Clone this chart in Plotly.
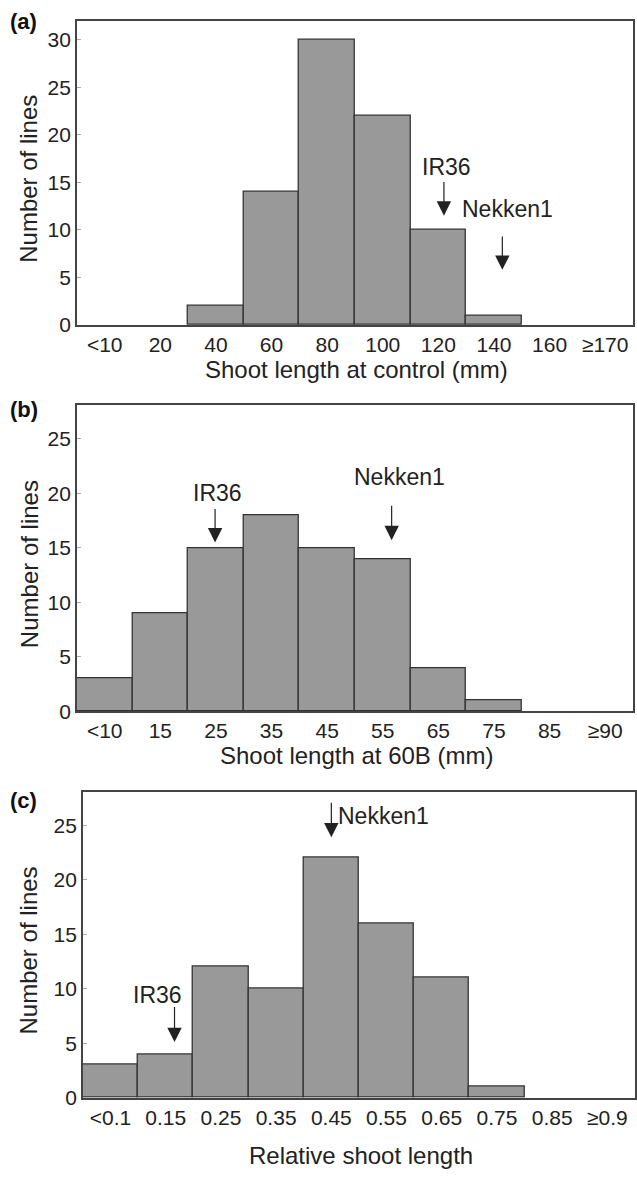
import plotly.graph_objects as go

W, H = 637, 1178

# ---- data ----
cats_a = ["<10", "20", "40", "60", "80", "100", "120", "140", "160", "≥170"]
vals_a = [0, 0, 2, 14, 30, 22, 10, 1, 0, 0]
cats_b = ["<10", "15", "25", "35", "45", "55", "65", "75", "85", "≥90"]
vals_b = [3, 9, 15, 18, 15, 14, 4, 1, 0, 0]
cats_c = ["<0.1", "0.15", "0.25", "0.35", "0.45", "0.55", "0.65", "0.75", "0.85", "≥0.9"]
vals_c = [3, 4, 12, 10, 22, 16, 11, 1, 0, 0]

xtitles = ["Shoot length at control (mm)", "Shoot length at 60B (mm)", "Relative shoot length"]
ytitle = "Number of lines"
panel_labels = ["(a)", "(b)", "(c)"]

# marker annotations: (text, arrow x, tail y, tip y, text x, text y, xanchor)
marks_a = [("IR36", 6.1, 15.2, 11.5, 6.14, 16.6, "center"),
           ("Nekken1", 7.15, 9.45, 5.8, 7.24, 12.25, "center")]
marks_b = [("IR36", 1.985, 18.7, 15.5, 2.02, 20.0, "center"),
           ("Nekken1", 5.16, 19.0, 15.7, 5.3, 21.5, "center")]
marks_c = [("Nekken1", 4.0, 27.2, 23.9, 4.08, 25.9, "left"),
           ("IR36", 1.16, 8.45, 5.1, 0.85, 9.45, "center")]

FONT = "Liberation Sans, Arial, sans-serif"
TXT = "#222222"
BAR = "#999999"
EDGE = "#333333"

def px(xp):
    return xp / W

def py(yp):
    return 1 - yp / H

panels = [
    dict(cats=cats_a, vals=vals_a, marks=marks_a, l=77, r=634, t=21, b=328, ymax=32,
         yt=[0, 5, 10, 15, 20, 25, 30], ttl_y=373, lab_y=22),
    dict(cats=cats_b, vals=vals_b, marks=marks_b, l=77, r=634, t=409, b=718, ymax=28.1,
         yt=[0, 5, 10, 15, 20, 25], ttl_y=763, lab_y=413),
    dict(cats=cats_c, vals=vals_c, marks=marks_c, l=83, r=636, t=799, b=1108, ymax=28.1,
         yt=[0, 5, 10, 15, 20, 25], ttl_y=1166, lab_y=808),
]

fig = go.Figure()
annotations = []
layout = {}

for i, p in enumerate(panels):
    n = "" if i == 0 else str(i + 1)
    xa, ya = "x" + n, "y" + n
    fig.add_trace(go.Bar(
        x=p["cats"], y=p["vals"], xaxis=xa, yaxis=ya,
        marker=dict(color=BAR, line=dict(color=EDGE,
                                         width=[1.3 if v > 0 else 0 for v in p["vals"]])),
        showlegend=False, hoverinfo="x+y",
    ))
    layout["xaxis" + n] = dict(
        domain=[px(p["l"]), px(p["r"])], anchor=ya, type="category",
        range=[-0.5, 9.5], showline=True, mirror=True, linecolor="#444444", linewidth=1.5,
        ticks="", showgrid=False, zeroline=False,
        tickfont=dict(family=FONT, size=21, color=TXT),
    )
    layout["yaxis" + n] = dict(
        domain=[py(p["b"]), py(p["t"])], anchor=xa, range=[0, p["ymax"]],
        tickvals=p["yt"], showline=True, mirror=True, linecolor="#444444", linewidth=1.5,
        ticks="inside", ticklen=4, tickcolor="#aaaaaa", showgrid=False, zeroline=False,
        tickfont=dict(family=FONT, size=21, color=TXT),
    )
    annotations.append(dict(text=xtitles[i], xref="paper", yref="paper",
                            x=px((p["l"] + p["r"]) / 2 + 2), y=py(p["ttl_y"]),
                            showarrow=False, xanchor="center", yanchor="middle",
                            font=dict(family=FONT, size=24, color=TXT)))
    annotations.append(dict(text=ytitle, xref="paper", yref="paper",
                            x=px(29), y=py((p["t"] + p["b"]) / 2 + 6), textangle=-90,
                            showarrow=False, xanchor="center", yanchor="middle",
                            font=dict(family=FONT, size=24, color=TXT)))
    annotations.append(dict(text="<b>" + panel_labels[i] + "</b>", xref="paper", yref="paper",
                            x=px(8), y=py(p["lab_y"]), showarrow=False,
                            xanchor="left", yanchor="middle",
                            font=dict(family=FONT, size=22, color="#111111")))
    for (txt, axx, tail, tip, tx, ty, anc) in p["marks"]:
        annotations.append(dict(x=axx, y=tip, ax=axx, ay=tail, xref=xa, yref=ya,
                                axref=xa, ayref=ya, text="", showarrow=True,
                                arrowhead=2, arrowsize=2.4, arrowwidth=1.2, arrowcolor="#222222"))
        annotations.append(dict(x=tx, y=ty, xref=xa, yref=ya, text=txt, showarrow=False,
                                xanchor=anc, yanchor="middle",
                                font=dict(family=FONT, size=23, color=TXT)))

fig.update_layout(
    width=W, height=H, margin=dict(l=0, r=0, t=0, b=0),
    paper_bgcolor="white", plot_bgcolor="white", bargap=0,
    annotations=annotations, **layout,
)

fig.write_html("out.html")
